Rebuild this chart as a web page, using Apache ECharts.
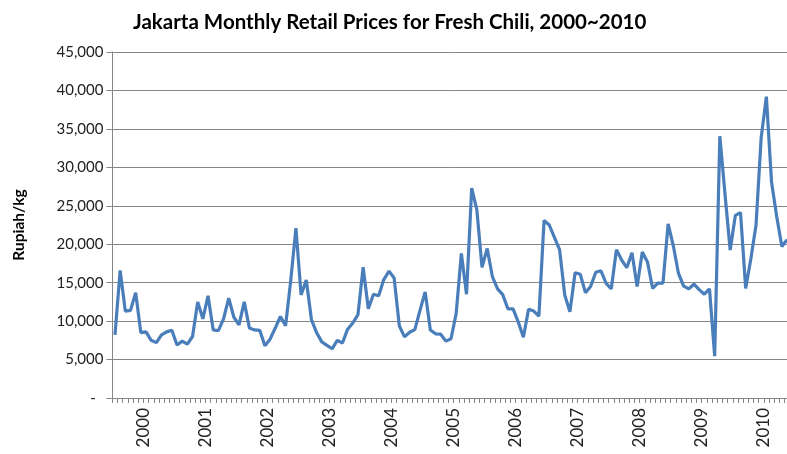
<!DOCTYPE html>
<html>
<head>
<meta charset="utf-8">
<script src="https://cdn.jsdelivr.net/npm/echarts@6/dist/echarts.min.js"></script>
<style>
html,body{margin:0;padding:0;overflow:hidden;background:#fff;width:787px;height:454px;}
#chart{width:800px;height:454px;}
</style>
</head>
<body>
<div id="chart"></div>
<script>
// Tick labels (years)
const years = ['2000','2001','2002','2003','2004','2005','2006','2007','2008','2009','2010'];
// Monthly categories (Jan 2000 .. Dec 2010)
const months = [];
years.forEach(y => { for (let m = 1; m <= 12; m++) months.push(y + '-' + (m < 10 ? '0' + m : m)); });

// Retail price, Rupiah/kg
const price2000 = [8200, 16600, 11300, 11400, 13700, 8500, 8600, 7500, 7200, 8200, 8600, 8800];
const price2001 = [6900, 7400, 7000, 8000, 12500, 10300, 13300, 8850, 8750, 10300, 13000, 10500];
const price2002 = [9500, 12500, 9100, 8850, 8800, 6800, 7650, 9100, 10600, 9400, 15300, 22100];
const price2003 = [13400, 15350, 10200, 8500, 7300, 6850, 6400, 7500, 7150, 8950, 9750, 10850];
const price2004 = [17000, 11600, 13500, 13300, 15400, 16500, 15600, 9400, 7950, 8550, 8900, 11400];
const price2005 = [13800, 8850, 8350, 8300, 7400, 7700, 11000, 18800, 13500, 27300, 24450, 17000];
const price2006 = [19450, 15800, 14200, 13450, 11600, 11600, 9900, 7900, 11550, 11300, 10650, 23100];
const price2007 = [22500, 20900, 19300, 13400, 11200, 16300, 16100, 13700, 14500, 16350, 16550, 14900];
const price2008 = [14200, 19300, 17950, 16950, 18900, 14500, 19000, 17700, 14250, 14950, 14950, 22650];
const price2009 = [19800, 16200, 14550, 14200, 14800, 14100, 13500, 14200, 5430, 34050, 26500, 19250];
const price2010 = [23750, 24100, 14250, 18100, 22500, 33900, 39200, 28100, 23600, 19700, 20600];

const prices = [].concat(price2000, price2001, price2002, price2003, price2004, price2005,
                         price2006, price2007, price2008, price2009, price2010);

const axisGray = '#868686';
const font = 'Lato, "Open Sans", sans-serif';

const chart = echarts.init(document.getElementById('chart'), null, {renderer: 'canvas'});
chart.setOption({
  animation: false,
  backgroundColor: '#fff',
  title: {
    text: 'Jakarta Monthly Retail Prices for Fresh Chili, 2000~2010',
    left: 133,
    top: 12,
    padding: 0,
    textStyle: {fontFamily: font, fontSize: 20.5, fontWeight: 'bold', color: '#000'}
  },
  grid: {left: 112.4, right: 5.2, top: 52, bottom: 56},
  xAxis: [
    {
      type: 'category',
      data: months,
      boundaryGap: true,
      axisLine: {show: true, lineStyle: {color: axisGray, width: 1}},
      axisTick: {show: true, interval: 0, length: 5, lineStyle: {color: axisGray}},
      axisLabel: {show: false},
      splitLine: {show: false}
    },
    {
      type: 'category',
      data: years,
      position: 'bottom',
      boundaryGap: true,
      axisLine: {show: false},
      axisTick: {show: false},
      axisLabel: {show: true, interval: 0, rotate: 90, margin: 10,
                  fontFamily: font, fontSize: 17, color: '#222'},
      splitLine: {show: false}
    }
  ],
  yAxis: {
    type: 'value',
    min: 0,
    max: 45000,
    interval: 5000,
    name: 'Rupiah/kg',
    nameLocation: 'middle',
    nameRotate: 90,
    nameGap: 85,
    nameTextStyle: {fontFamily: font, fontSize: 15.5, fontWeight: 'bold', color: '#000'},
    axisLine: {show: true, lineStyle: {color: axisGray, width: 1}},
    axisTick: {show: true, length: 6, lineStyle: {color: axisGray}},
    axisLabel: {
      margin: 9,
      fontFamily: font, fontSize: 15, color: '#222',
      formatter: v => v === 0 ? '-  ' : v.toLocaleString('en-US')
    },
    splitLine: {show: true, lineStyle: {color: axisGray, width: 1}}
  },
  series: [{
    type: 'line',
    xAxisIndex: 0,
    data: prices,
    showSymbol: false,
    smooth: false,
    lineStyle: {color: '#4a7ebb', width: 3.2},
    itemStyle: {color: '#4a7ebb'}
  }]
});
</script>
</body>
</html>
